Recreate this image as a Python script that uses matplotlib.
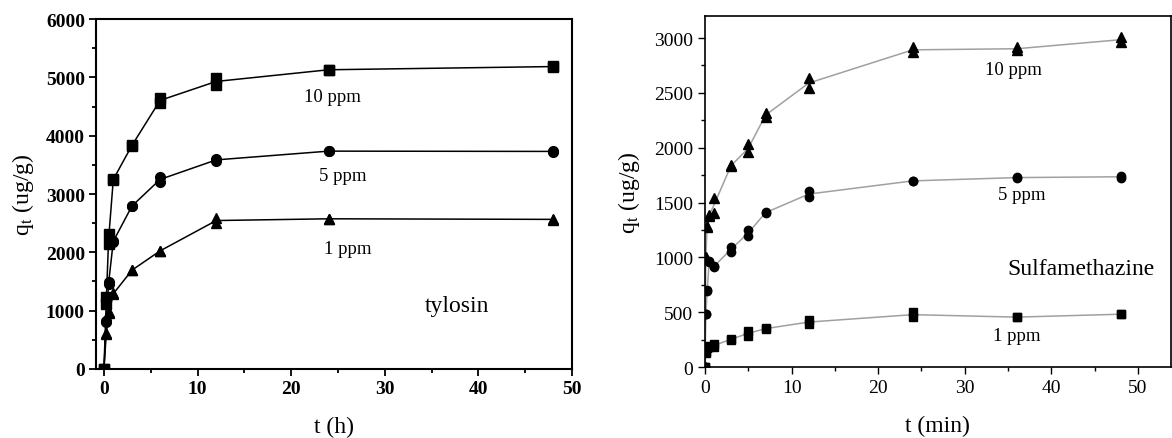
import numpy as np
import matplotlib
matplotlib.use('Agg')
import matplotlib.pyplot as plt
from matplotlib.ticker import MultipleLocator

plt.rcParams['font.family'] = ['Liberation Serif', 'DejaVu Serif']
plt.rcParams['mathtext.fontset'] = 'stix'

# tylosin (left), time in h
t_tyl = [0, 0.25, 0.5, 1, 3, 6, 12, 24, 48]
tyl_10_a = [0, 1230, 2310, 3260, 3840, 4650, 4990, 5130, 5190]
tyl_10_b = [0, 1120, 2150, 3240, 3830, 4560, 4870, 5130, 5180]
tyl_5_a = [0, 820, 1490, 2200, 2800, 3290, 3600, 3740, 3740]
tyl_5_b = [0, 800, 1460, 2180, 2790, 3210, 3570, 3730, 3720]
tyl_1_a = [0, 600, 980, 1300, 1700, 2030, 2590, 2580, 2570]
tyl_1_b = [0, 620, 960, 1280, 1690, 2020, 2500, 2570, 2560]

# sulfamethazine (right), time in min
t_smz = [0, 0.1, 0.25, 0.5, 1, 3, 5, 7, 12, 24, 36, 48]
smz_10_a = [0, 1000, 1290, 1380, 1540, 1840, 2030, 2315, 2635, 2915, 2915, 3010]
smz_10_b = [0, 990, 1280, 1390, 1400, 1830, 1960, 2280, 2545, 2870, 2890, 2960]
smz_5_a = [0, 483, 700, 966, 920, 1095, 1250, 1415, 1605, 1700, 1735, 1745]
smz_5_b = [0, 480, 690, 960, 910, 1050, 1195, 1400, 1550, 1695, 1720, 1725]
smz_1_a = [0, 137, 182, 190, 210, 255, 330, 355, 430, 500, 455, 483]
smz_1_b = [0, 130, 175, 185, 180, 250, 285, 345, 390, 455, 455, 480]

fig = plt.figure(figsize=(11.72, 4.39), dpi=100)
ax1 = fig.add_axes([0.0819, 0.1572, 0.4061, 0.7972])
ax2 = fig.add_axes([0.6015, 0.1617, 0.3975, 0.7993])

# left panel
for a, b, m, ms in [(tyl_10_a, tyl_10_b, 's', 7),
                    (tyl_5_a, tyl_5_b, 'o', 7),
                    (tyl_1_a, tyl_1_b, '^', 7.5)]:
    mean = (np.array(a) + np.array(b)) / 2
    ax1.plot(t_tyl, mean, '-', color='black', lw=1.1)
    ax1.plot(t_tyl, a, m, color='black', ms=ms, ls='none')
    ax1.plot(t_tyl, b, m, color='black', ms=ms, ls='none')

ax1.set_xlim(-0.85, 50)
ax1.set_ylim(0, 6000)
ax1.xaxis.set_major_locator(MultipleLocator(10))
ax1.xaxis.set_minor_locator(MultipleLocator(5))
ax1.yaxis.set_major_locator(MultipleLocator(1000))
ax1.yaxis.set_minor_locator(MultipleLocator(500))
ax1.tick_params(which='major', direction='out', length=5, width=1.3, labelsize=14, pad=3)
ax1.tick_params(which='minor', direction='out', length=3, width=1.3)
for lab in ax1.get_xticklabels() + ax1.get_yticklabels():
    lab.set_fontweight('bold')
for s in ax1.spines.values():
    s.set_linewidth(1.5)
ax1.set_xlabel('t (h)', fontsize=17)
ax1.set_ylabel(r'q$_\mathrm{t}$ (ug/g)', fontsize=17)
ax1.yaxis.set_label_coords(-0.125, 0.5)
ax1.xaxis.set_label_coords(0.5, -0.135)
ax1.text(24.4, 4680, '10 ppm', fontsize=13.5, ha='center', va='center')
ax1.text(25.5, 3325, '5 ppm', fontsize=13.5, ha='center', va='center')
ax1.text(26, 2074, '1 ppm', fontsize=13.5, ha='center', va='center')
ax1.text(37.7, 1097, 'tylosin', fontsize=17, ha='center', va='center')

# right panel
for a, b, m, ms in [(smz_10_a, smz_10_b, '^', 7),
                    (smz_5_a, smz_5_b, 'o', 6),
                    (smz_1_a, smz_1_b, 's', 5.5)]:
    mean = (np.array(a) + np.array(b)) / 2
    ax2.plot(t_smz, mean, '-', color='#a0a0a0', lw=1.1)
    ax2.plot(t_smz, a, m, color='black', ms=ms, ls='none')
    ax2.plot(t_smz, b, m, color='black', ms=ms, ls='none')

ax2.set_xlim(0, 53.8)
ax2.set_ylim(0, 3200)
ax2.xaxis.set_major_locator(MultipleLocator(10))
ax2.xaxis.set_minor_locator(MultipleLocator(5))
ax2.yaxis.set_major_locator(MultipleLocator(500))
ax2.yaxis.set_minor_locator(MultipleLocator(250))
ax2.tick_params(which='major', direction='out', length=5, width=1.0, labelsize=14)
ax2.tick_params(which='minor', direction='out', length=3, width=1.0)
for s in ax2.spines.values():
    s.set_linewidth(1.2)
ax2.set_xlabel('t (min)', fontsize=17)
ax2.set_ylabel(r'q$_\mathrm{t}$ (ug/g)', fontsize=17)
ax2.yaxis.set_label_coords(-0.135, 0.5)
ax2.xaxis.set_label_coords(0.5, -0.135)
ax2.text(35.6, 2716, '10 ppm', fontsize=13.5, ha='center', va='center')
ax2.text(36.6, 1577, '5 ppm', fontsize=13.5, ha='center', va='center')
ax2.text(36, 283, '1 ppm', fontsize=13.5, ha='center', va='center')
ax2.text(43.4, 902, 'Sulfamethazine', fontsize=17, ha='center', va='center')

fig.savefig('out.png', dpi=100)
